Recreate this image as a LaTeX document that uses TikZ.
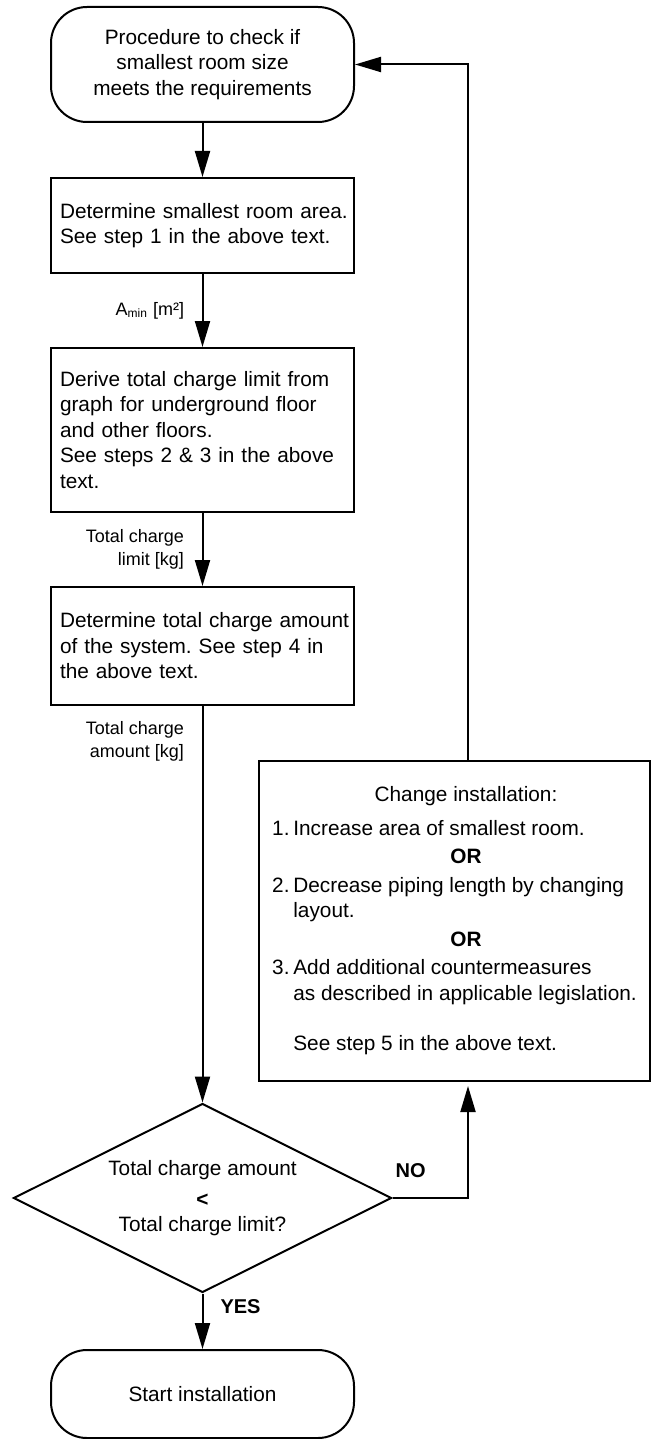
\documentclass[tikz,border=0pt]{standalone}
\usepackage{fontspec}
\setmainfont{Liberation Sans}
\usetikzlibrary{arrows.meta,shapes.geometric,calc}
\tikzset{>={Triangle[length=13pt,width=7.5pt]}}
\newcommand\ctrline[1]{\multicolumn{2}{c}{\hspace*{11.5pt}#1}}

\begin{document}
\frenchspacing
\begin{tikzpicture}[x=0.5pt,y=-0.5pt,line width=1pt,
    every node/.style={font=\fontsize{10.4}{12.75}\selectfont},
    term/.style={draw,rounded corners=18pt,minimum width=151.5pt,align=center},
    stepbox/.style={draw,text width=151.5pt,inner xsep=0pt,align=left,execute at begin node={\leftskip=4.5pt\relax}},
    decision/.style={draw,diamond,aspect=2,minimum width=189pt,minimum height=94.5pt,inner sep=0pt,align=center},
    flowlabel/.style={font=\fontsize{9}{11.5}\selectfont,align=right,inner sep=0pt},
    answer/.style={font=\fontsize{10}{12}\selectfont\bfseries,inner sep=0pt}]
        \useasboundingbox (0,0) rectangle (651,1439);
        \node[term,minimum height=57.5pt] (start) at (202.5,64.5) {Procedure to check if\\smallest room size\\meets the requirements};
        \node[stepbox,minimum height=47.5pt] (area) at (202.5,225.5) {Determine smallest room area.\\See step 1 in the above text.};
        \node[stepbox,minimum height=82pt] (limit) at (202.5,430) {Derive total charge limit from\\graph for underground floor\\and other floors.\\See steps 2 \& 3 in the above\\text.};
        \node[stepbox,minimum height=59pt] (amount) at (202.5,646) {Determine total charge amount\\of the system. See step 4 in\\the above text.};
        \node[decision] (check) at (202.5,1198) {Total charge amount\\[2.75pt]\textbf{<}\\Total charge limit?};
        \node[term,minimum height=44pt] (install) at (202.5,1394) {Start installation};
        \node[draw,minimum width=195.5pt,minimum height=160pt] (change) at (454.5,921) {%
          \begin{tabular}{@{}l@{\hspace{1.9pt}}l@{}}
            \ctrline{Change installation:}\\[4pt]
            1.&Increase area of smallest room.\\[1.5pt]
            \ctrline{\bfseries OR}\\[1.5pt]
            2.&Decrease piping length by changing\\
            &layout.\\[1.5pt]
            \ctrline{\bfseries OR}\\[1.5pt]
            3.&Add additional countermeasures\\
            &as described in applicable legislation.\\[12.5pt]
            &See step 5 in the above text.
          \end{tabular}};
        \coordinate (fb) at (468,0);
        \draw[->] (start) -- (area);
        \draw[->] (area) -- node[flowlabel,left=8.75pt] {A\textsubscript{min} [m²]} (limit);
        \draw[->] (limit) -- node[flowlabel,left=8.75pt] {Total charge\\limit [kg]} (amount);
        \draw[->] (amount) -- node[flowlabel,left=8.75pt,pos=.09] {Total charge\\amount [kg]} (check);
        \draw[->] (check) -- node[answer,right=8.5pt,pos=.24] {YES} (install);
        \draw[->,shorten >=2pt] (check.east) -- node[answer,above=9.5pt,pos=.24] {NO} (check.east -| fb) -- (change.south -| fb);
        \draw[->] (change.north -| fb) |- (start.east);
\end{tikzpicture}
\end{document}
